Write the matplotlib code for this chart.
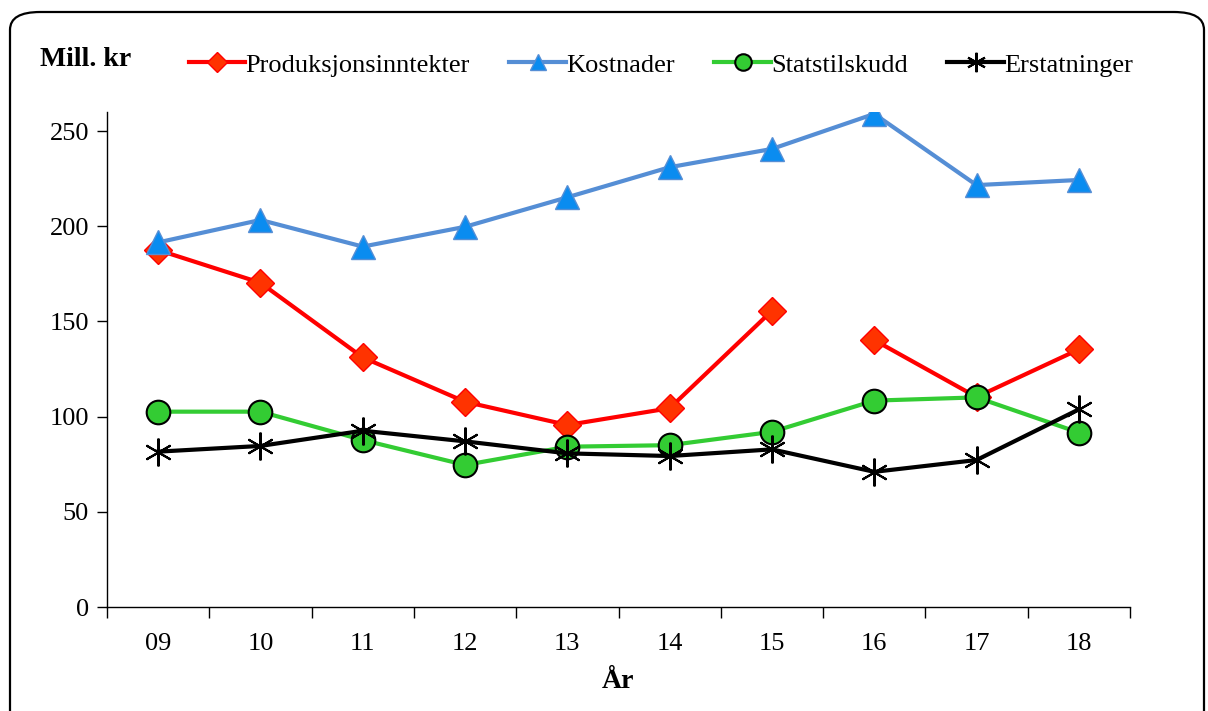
import matplotlib
matplotlib.use("Agg")
import matplotlib.pyplot as plt
from matplotlib.patches import FancyBboxPatch
import numpy as np

# Data (mill. kr)
years = ["09", "10", "11", "12", "13", "14", "15", "16", "17", "18"]
produksjon = [187.5, 170.3, 131.1, 107.8, 95.6, 104.4, 155.6, 140.2, 110.3, 135.3]
kostnader = [191.5, 203.3, 189.3, 199.7, 215.2, 231.0, 240.6, 259.0, 221.6, 224.3]
statstilskudd = [102.6, 102.6, 87.7, 74.6, 84.2, 85.0, 92.0, 108.4, 110.1, 91.6]
erstatninger = [81.6, 84.6, 92.6, 87.0, 80.7, 79.3, 82.8, 71.0, 77.2, 103.8]
# the produksjonsinntekter line is broken between 15 and 16
prod_break = 7

plt.rcParams["font.family"] = ["Liberation Serif", "DejaVu Serif"]
FS = 19

fig = plt.figure(figsize=(12.08, 7.11), dpi=100)
ax = fig.add_axes([107 / 1208, 1 - 607 / 711, (1130 - 107) / 1208, (607 - 112) / 711])

# rounded frame around the whole chart
frame = FancyBboxPatch((10 / 1208, -0.05), 1194 / 1208, 1 - 12 / 711 + 0.05,
                       boxstyle="round,pad=0,rounding_size=0.025",
                       transform=fig.transFigure, fill=False,
                       edgecolor="black", linewidth=1.6, zorder=0)
fig.patches.append(frame)

x = np.arange(len(years))

ax.plot(x[:prod_break], produksjon[:prod_break], color="#FF0000", lw=3,
        marker="D", ms=14, mfc="#FF3300", mec="#FF0000", zorder=3,
        label="Produksjonsinntekter")
ax.plot(x[prod_break:], produksjon[prod_break:], color="#FF0000", lw=3,
        marker="D", ms=14, mfc="#FF3300", mec="#FF0000", zorder=3)
ax.plot(x, kostnader, color="#558ED5", lw=3, marker="^", ms=17,
        mfc="#0A8CF0", mec="#558ED5", zorder=3, label="Kostnader")
ax.plot(x, statstilskudd, color="#33CC33", lw=3, marker="o", ms=17,
        mfc="#33CC33", mec="black", mew=1.5, zorder=3, label="Statstilskudd")
ax.plot(x, erstatninger, color="black", lw=3, marker=(6, 2, 0), ms=20,
        mec="black", mew=1.5, zorder=4, label="Erstatninger")

ax.set_xlim(-0.5, len(years) - 0.5)
ax.set_ylim(0, 260)
ax.set_yticks([0, 50, 100, 150, 200, 250])
ax.set_xticks(np.arange(-0.5, len(years), 1.0))
ax.set_xticklabels([])
ax.set_xticks(x, minor=True)
ax.set_xticklabels(years, minor=True)
ax.tick_params(axis="x", which="major", direction="out", length=8, width=1)
ax.tick_params(axis="x", which="minor", length=0, pad=19, labelsize=FS)
ax.tick_params(axis="y", direction="out", length=7, width=1, labelsize=FS, pad=6)

for side in ["top", "right"]:
    ax.spines[side].set_visible(False)
ax.spines["left"].set_linewidth(1)
ax.spines["bottom"].set_linewidth(1)

ax.set_xlabel("År", fontsize=20, fontweight="bold", labelpad=10)
fig.text(40 / 1208, 1 - 59 / 711, "Mill. kr", fontsize=20, fontweight="bold",
         va="center", ha="left")

fig.legend(loc="center left", bbox_to_anchor=(178 / 1208, 1 - 65 / 711),
           ncol=4, frameon=False, fontsize=FS, handlelength=2.15,
           handletextpad=0.0, columnspacing=1.5, markerscale=0.7,
           borderaxespad=0)

fig.savefig("out.png", dpi=100)
